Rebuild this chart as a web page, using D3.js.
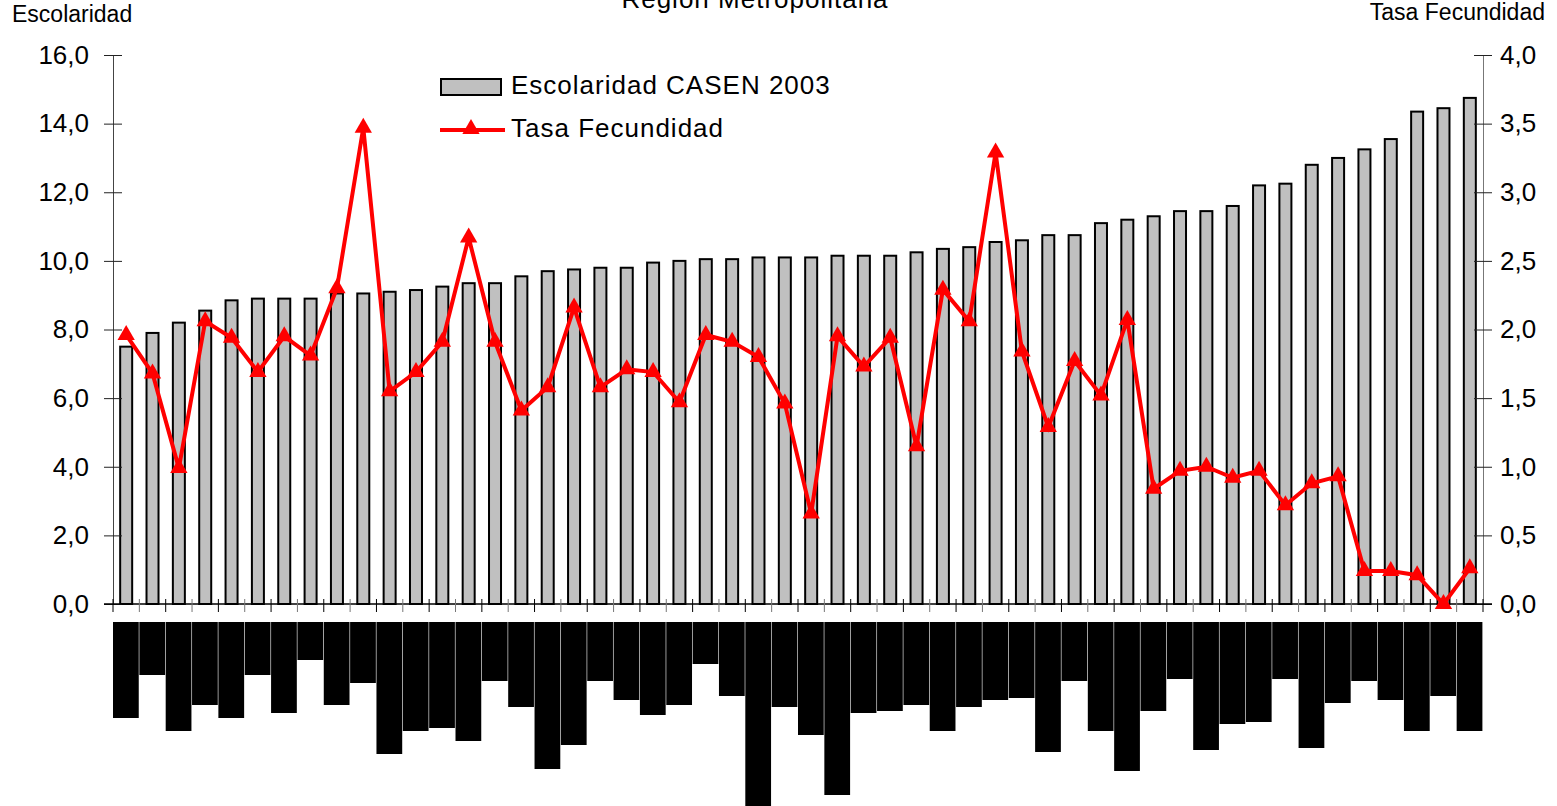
<!DOCTYPE html>
<html>
<head>
<meta charset="utf-8">
<script src="https://cdn.jsdelivr.net/npm/d3@7"></script>
<style>
  body { margin: 0; background: #fff; }
  svg text { font-family: "Liberation Sans", Arial, sans-serif; fill: #000; }
</style>
</head>
<body>
<svg id="chart" width="1557" height="806"></svg>
<script>
// Escolaridad (años, eje izquierdo) por comuna, ordenado de menor a mayor
const escolaridad = [7.5, 7.9, 8.2, 8.55, 8.85, 8.9, 8.9, 8.9, 9.05, 9.05,
  9.1, 9.15, 9.25, 9.35, 9.35, 9.55, 9.7, 9.75, 9.8, 9.8,
  9.95, 10.0, 10.05, 10.05, 10.1, 10.1, 10.1, 10.15, 10.15, 10.15,
  10.25, 10.35, 10.4, 10.55, 10.6, 10.75, 10.75, 11.1, 11.2, 11.3,
  11.45, 11.45, 11.6, 12.2, 12.25, 12.8, 13.0, 13.25, 13.55, 14.35,
  14.45, 14.75]

// Tasa de fecundidad (eje derecho)
const fecundidad = [1.96, 1.68, 0.99, 2.06, 1.94, 1.69, 1.95, 1.81, 2.30, 3.47,
  1.55, 1.69, 1.91, 2.67, 1.91, 1.41, 1.58, 2.16, 1.58, 1.71,
  1.69, 1.47, 1.96, 1.91, 1.80, 1.46, 0.66, 1.95, 1.73, 1.94,
  1.15, 2.29, 2.06, 3.29, 1.84, 1.29, 1.77, 1.52, 2.07, 0.84,
  0.97, 1.0, 0.92, 0.97, 0.72, 0.88, 0.93, 0.24, 0.24, 0.21,
  0.0, 0.26]

// largo de las etiquetas de comuna (salen como bloques negros)
const labelLen = [96, 53, 109, 83, 96, 53, 91, 38, 83, 61,
  132, 109, 106, 119, 59, 85, 147, 123, 59, 78,
  93, 83, 42, 74, 184, 85, 113, 173, 91, 89,
  83, 109, 85, 78, 76, 130, 59, 109, 149, 89,
  57, 128, 102, 100, 57, 126, 81, 59, 78, 109,
  74, 109]

const comunas = d3.range(1, escolaridad.length + 1)
const leftTicks = [0, 2, 4, 6, 8, 10, 12, 14, 16]
const rightTicks = [0, 0.5, 1, 1.5, 2, 2.5, 3, 3.5, 4]

const svg = d3.select("#chart")
const fmt = d3.format(".1f")
const coma = (d) => fmt(d).replace(".", ",")

const x = d3.scaleBand().domain(comunas).range([113, 1483]).paddingInner(0).paddingOuter(0)
const yL = d3.scaleLinear().domain([0, 16]).range([604, 55])
const yR = d3.scaleLinear().domain([0, 4]).range([604, 55])
const yLab = d3.scaleLinear().domain([0, 200]).range([622, 822])

// titulo (cortado arriba como en el original)
svg.append("text")
  .attr("x", 755).attr("y", 8)
  .attr("text-anchor", "middle")
  .attr("font-size", "26px")
  .attr("letter-spacing", "1px")
  .text("Región Metropolitana")

svg.append("text").attr("x", 12).attr("y", 22).attr("font-size", "23px").text("Escolaridad")
svg.append("text").attr("x", 1545).attr("y", 20).attr("text-anchor", "end")
  .attr("font-size", "23px").text("Tasa Fecundidad")

// BARRAS
const barW = 12
svg.append("g").selectAll("rect")
  .data(escolaridad)
  .join("rect")
  .attr("x", (d, i) => x(comunas[i]) + x.bandwidth() / 2 - barW / 2)
  .attr("y", (d) => yL(d))
  .attr("width", barW)
  .attr("height", (d) => yL(0) - yL(d))
  .attr("fill", "#c0c0c0")
  .attr("stroke", "#000")
  .attr("stroke-width", 2)

// ejes
const axisL = d3.axisLeft(yL).tickValues(leftTicks).tickFormat(coma).tickSizeInner(9).tickSizeOuter(0)
const gL = svg.append("g").attr("transform", "translate(113,0)").call(axisL)
gL.select(".domain").attr("stroke", "#444")
gL.selectAll(".tick line").attr("x2", -9).attr("x1", 9).attr("stroke", "#222")
gL.selectAll(".tick text").attr("x", -24).attr("font-size", "26px").attr("font-family", "Liberation Sans, Arial, sans-serif")

const axisR = d3.axisRight(yR).tickValues(rightTicks).tickFormat(coma).tickSizeInner(9).tickSizeOuter(0)
const gR = svg.append("g").attr("transform", "translate(1483,0)").call(axisR)
gR.select(".domain").attr("stroke", "#777")
gR.selectAll(".tick line").attr("x1", -9).attr("x2", 9).attr("stroke", "#222")
gR.selectAll(".tick text").attr("x", 17).attr("font-size", "26px").attr("font-family", "Liberation Sans, Arial, sans-serif")

// eje x con marcas entre categorias
const gX = svg.append("g")
gX.append("line").attr("x1", 104).attr("x2", 1492).attr("y1", yL(0)).attr("y2", yL(0)).attr("stroke", "#000").attr("stroke-width", 1.5)
gX.selectAll("line.tk")
  .data(comunas.concat([null]))
  .join("line")
  .attr("class", "tk")
  .attr("x1", (d, i) => i < comunas.length ? x(d) : x.range()[1])
  .attr("x2", (d, i) => i < comunas.length ? x(d) : x.range()[1])
  .attr("y1", yL(0) - 5).attr("y2", yL(0) + 8)
  .attr("stroke", (d, i) => i % 2 ? "#777" : "#000")

// etiquetas de comuna (bloques negros)
svg.append("g").selectAll("rect")
  .data(labelLen)
  .join("rect")
  .attr("x", (d, i) => x(comunas[i]))
  .attr("y", yLab(0))
  .attr("width", x.bandwidth() - 0.6)
  .attr("height", (d) => yLab(d) - yLab(0))
  .attr("fill", "#000")

// LINEA
const line = d3.line().x((d, i) => x(comunas[i]) + x.bandwidth() / 2).y((d) => yR(d))
svg.append("path")
  .datum(fecundidad)
  .attr("d", line)
  .attr("fill", "none")
  .attr("stroke", "#ff0000")
  .attr("stroke-width", 4)
  .attr("stroke-linejoin", "miter")

const tri = d3.symbol().type(d3.symbolTriangle).size(130)
svg.append("g").selectAll("path")
  .data(fecundidad)
  .join("path")
  .attr("d", tri)
  .attr("transform", (d, i) => "translate(" + (x(comunas[i]) + x.bandwidth() / 2) + "," + yR(d) + ")")
  .attr("fill", "#ff0000")

// LEYENDA
const lg = svg.append("g")
lg.append("rect").attr("x", 441).attr("y", 79).attr("width", 60).attr("height", 16)
  .attr("fill", "#c0c0c0").attr("stroke", "#000").attr("stroke-width", 2)
lg.append("text").attr("x", 511).attr("y", 94).attr("font-size", "26px").attr("letter-spacing", "1px")
  .text("Escolaridad CASEN 2003")
lg.append("line").attr("x1", 440).attr("x2", 505).attr("y1", 130).attr("y2", 130)
  .attr("stroke", "#ff0000").attr("stroke-width", 4)
lg.append("path").attr("d", tri).attr("transform", "translate(471,129)").attr("fill", "#ff0000")
lg.append("text").attr("x", 511).attr("y", 137).attr("font-size", "26px").attr("letter-spacing", "1px")
  .text("Tasa Fecundidad")
</script>
</body>
</html>
